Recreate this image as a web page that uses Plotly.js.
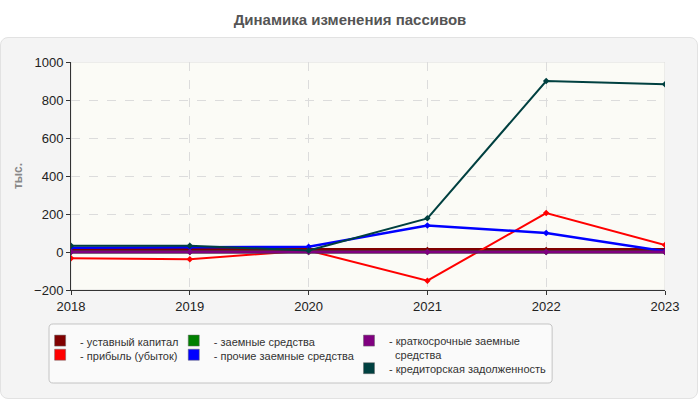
<!DOCTYPE html>
<html>
<head>
<meta charset="utf-8">
<script src="https://cdn.plot.ly/plotly-3.0.1.min.js"></script>
<style>
    body { margin: 0; background: #ffffff; }
    #wrap { position: relative; width: 700px; height: 400px; }
    #panel {
        position: absolute; left: 0; top: 37px; width: 696px; height: 360px;
        background: #f4f4f4; border: 1px solid #e2e2e2; border-radius: 8px;
    }
    #passivesChart { position: absolute; left: 0; top: 0; width: 700px; height: 400px; }
</style>
</head>
<body>
<div id="wrap">
    <div id="panel"></div>
    <div id="passivesChart"></div>
</div>
<script>
// values in тыс.
const years = [2018, 2019, 2020, 2021, 2022, 2023];
const ustavnyKapital = [10, 10, 10, 10, 10, 10];
const pribyl = [-33, -38, 8, -151, 205, 37];
const zaemnyeSredstva = [0, 0, 0, 0, 0, 0];
const prochieZaemnye = [22, 25, 28, 140, 100, 4];
const kratkosrochnye = [0, 0, 0, 0, 0, 0];
const kreditorskaya = [33, 33, 8, 177, 900, 883];

const seriesNames = [
    "- уставный капитал",
    "- прибыль (убыток)",
    "- заемные средства",
    "- прочие заемные средства",
    "- краткосрочные заемные<br>  средства",
    "- кредиторская задолженность"
];
const seriesValues = [ustavnyKapital, pribyl, zaemnyeSredstva, prochieZaemnye, kratkosrochnye, kreditorskaya];
const seriesColours = ["#800000", "#ff0000", "#008000", "#0000ff", "#800080", "#004040"];
const lineWidths = [4, 2, 3, 2.5, 3, 2];

// legend slots: [legend id, paper x, paper y] -- 3 columns of 2
const legendSlots = [
    ["legend", -0.052, -0.162],
    ["legend2", -0.052, -0.224],
    ["legend3", 0.173, -0.162],
    ["legend4", 0.173, -0.224],
    ["legend5", 0.468, -0.162],
    ["legend6", 0.468, -0.283]
];

const font = "Liberation Sans, Arial, sans-serif";

const lines = seriesValues.map((values, i) => ({
    x: years,
    y: values,
    type: "scatter",
    mode: "lines+markers",
    line: { color: seriesColours[i], width: lineWidths[i] },
    marker: { color: seriesColours[i], size: 5, symbol: "diamond" },
    showlegend: false,
    hovertemplate: `${seriesNames[i]}<br>%{x}: %{y}<extra></extra>`
}));

// legend-only entries so the key shows colour swatches
const keys = seriesNames.map((name, i) => ({
    x: [null],
    y: [null],
    type: "scatter",
    mode: "markers",
    name: name,
    marker: { color: seriesColours[i], size: 11, symbol: "square", line: { color: "#666", width: 0.5 } },
    legend: legendSlots[i][0],
    hoverinfo: "skip"
}));

const layout = {
    width: 700,
    height: 400,
    paper_bgcolor: "rgba(0,0,0,0)",
    plot_bgcolor: "#fbfbf6",
    margin: { l: 71, r: 35, t: 62, b: 110 },
    font: { family: font, size: 12, color: "#222" },
    title: {
        text: "<b>Динамика изменения пассивов</b>",
        font: { family: font, size: 15, color: "#555" },
        x: 0.5,
        xanchor: "center",
        y: 0.95,
        yanchor: "middle",
        yref: "container"
    },
    xaxis: {
        range: [2018, 2023],
        tickvals: years,
        ticktext: years.map(String),
        showgrid: true,
        gridcolor: "#dcdcdc",
        griddash: "dash",
        zeroline: false,
        showline: true,
        linecolor: "#333",
        linewidth: 1,
        ticks: "outside",
        ticklen: 4,
        tickcolor: "#333",
        tickfont: { family: font, size: 13, color: "#222" }
    },
    yaxis: {
        range: [-200, 1000],
        dtick: 200,
        showgrid: true,
        gridcolor: "#dcdcdc",
        griddash: "dash",
        zeroline: false,
        showline: true,
        linecolor: "#333",
        linewidth: 1,
        ticks: "outside",
        ticklen: 4,
        tickcolor: "#333",
        tickfont: { family: font, size: 13, color: "#222" },
        title: {
            text: "<b>тыс.</b>",
            font: { family: font, size: 12, color: "#888" },
            standoff: 8
        }
    },
    shapes: [
        { // light frame round the plot area
            type: "rect", xref: "x", yref: "y", x0: 2018, x1: 2023, y0: -200, y1: 1000,
            line: { color: "#dddddd", width: 1 }, layer: "below"
        },
        { // legend box
            type: "path", xref: "paper", yref: "paper", layer: "below",
            path: "M -0.030,-0.149 L 0.803,-0.149 Q 0.81,-0.149 0.81,-0.166 L 0.81,-0.391 Q 0.81,-0.408 0.803,-0.408 L -0.030,-0.408 Q -0.037,-0.408 -0.037,-0.391 L -0.037,-0.166 Q -0.037,-0.149 -0.030,-0.149 Z",
            line: { color: "#c4c4c4", width: 1 },
            fillcolor: "#fafafa"
        }
    ],
    hovermode: "closest"
};

legendSlots.forEach(([id, x, y]) => {
    layout[id] = {
        x: x, y: y, xanchor: "left", yanchor: "top",
        bgcolor: "rgba(0,0,0,0)",
        borderwidth: 0,
        valign: "top",
        font: { family: font, size: 11, color: "#333" },
        itemclick: false,
        itemdoubleclick: false
    };
});

Plotly.newPlot("passivesChart", lines.concat(keys), layout, { displayModeBar: false, responsive: false });
</script>
</body>
</html>
